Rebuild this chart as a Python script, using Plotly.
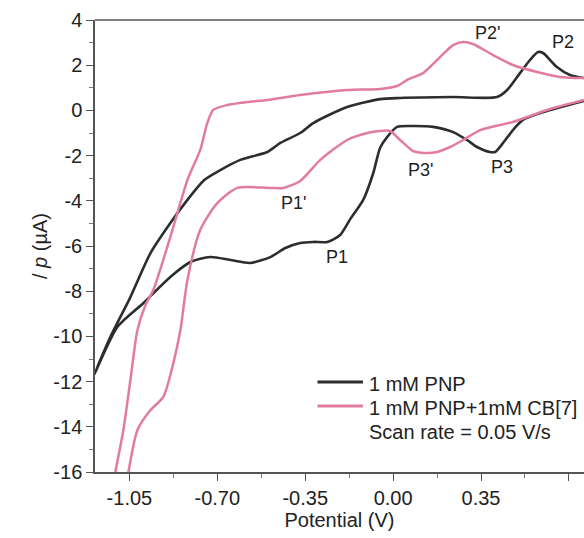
import plotly.graph_objects as go
import numpy as np

# ---- data ----
# 1 mM PNP : cathodic branch (right -> left) then anodic branch (left -> right)
pnp_v = [0.76, 0.613, 0.517, 0.477, 0.438, 0.406, 0.386, 0.334, 0.294, 0.239, 0.159, 0.080, 0.016,
         -0.024, -0.052, -0.079, -0.119, -0.171, -0.211, -0.262, -0.318, -0.370, -0.429, -0.489,
         -0.569, -0.648, -0.728, -0.807, -0.887, -0.994, -1.098, -1.189,
         -1.126, -1.046, -0.966, -0.887, -0.819, -0.752, -0.688, -0.608, -0.501, -0.449, -0.370,
         -0.318, -0.183, -0.052, 0.028, 0.239, 0.414, 0.454, 0.505, 0.545, 0.577, 0.597, 0.652,
         0.704, 0.76]
pnp_i = [0.42, -0.03, -0.42, -0.87, -1.44, -1.84, -1.84, -1.62, -1.31, -0.96, -0.73, -0.69, -0.73,
         -1.18, -1.66, -2.77, -3.96, -4.81, -5.51, -5.82, -5.82, -5.87, -6.09, -6.49,
         -6.75, -6.62, -6.49, -6.71, -7.37, -8.52, -9.58, -11.66,
         -10.03, -8.26, -6.31, -4.98, -3.96, -3.08, -2.64, -2.19, -1.84, -1.44, -1.00,
         -0.56, 0.15, 0.50, 0.55, 0.59, 0.59, 0.90, 1.65, 2.23, 2.58, 2.54, 1.92,
         1.57, 1.43]

# 1 mM PNP + 1 mM CB[7]
cb_v = [0.76, 0.613, 0.477, 0.346, 0.279, 0.227, 0.175, 0.127, 0.080, 0.028, -0.012, -0.052,
        -0.103, -0.183, -0.290, -0.370, -0.437, -0.489, -0.620, -0.700, -0.768, -0.819, -0.847,
        -0.875, -0.915, -0.966, -1.018, -1.054, -1.066,
        -1.118, -1.106, -1.074, -1.046, -1.018, -0.986, -0.955, -0.887, -0.819, -0.768, -0.740,
        -0.716, -0.660, -0.581, -0.501, -0.370, -0.183, -0.052, 0.016, 0.056, 0.119, 0.187,
        0.239, 0.279, 0.318, 0.398, 0.477, 0.573, 0.664, 0.76]
cb_i = [0.46, 0.02, -0.51, -0.87, -1.31, -1.62, -1.84, -1.88, -1.80, -1.31, -0.91, -0.91,
        -1.00, -1.31, -2.19, -3.12, -3.43, -3.43, -3.43, -4.10, -5.29, -7.50, -9.72,
        -11.18, -12.68, -13.26, -14.14, -16.0, -16.8,
        -16.8, -16.0, -14.14, -11.93, -9.72, -8.61, -7.95, -5.60, -3.08, -1.75, -0.56,
        0.02, 0.24, 0.37, 0.46, 0.68, 0.90, 0.95, 1.08, 1.35, 1.65, 2.36,
        2.89, 3.03, 2.94, 2.45, 2.01, 1.70, 1.48, 1.43]

x_ticks = [-1.05, -0.70, -0.35, 0.00, 0.35, 0.70]
x_labels = ["-1.05", "-0.70", "-0.35", "0.00", "0.35", "0.70"]
y_ticks = [4, 2, 0, -2, -4, -6, -8, -10, -12, -14, -16]
y_labels = ["4", "2", "0", "-2", "-4", "-6", "-8", "-10", "-12", "-14", "-16"]

peak_labels = ["P1", "P1'", "P2", "P2'", "P3", "P3'"]
peak_v = [-0.223, -0.398, 0.676, 0.374, 0.434, 0.108]
peak_i = [-6.49, -4.10, 3.03, 3.42, -2.50, -2.64]

series_names = ["1 mM PNP", "1 mM PNP+1mM CB[7]"]
note_text = "Scan rate = 0.05 V/s"

FONT = "Liberation Sans, Arial, sans-serif"
BLACK = "#2a2f2e"
PINK = "#e27c9f"
colors = [BLACK, PINK]
FS = 20

fig = go.Figure()
fig.add_trace(go.Scatter(x=pnp_v, y=pnp_i, mode="lines", name=series_names[0],
                         line=dict(color=BLACK, width=2.6, shape="spline", smoothing=0.7)))
fig.add_trace(go.Scatter(x=cb_v, y=cb_i, mode="lines", name=series_names[1],
                         line=dict(color=PINK, width=2.5, shape="spline", smoothing=0.7)))

for t, xv, yv in zip(peak_labels, peak_v, peak_i):
    fig.add_annotation(x=xv, y=yv, text=t, showarrow=False,
                       font=dict(family=FONT, size=18, color="#222"))

# legend drawn in the plot (line samples + labels), paper coordinates of the plot area
leg_rows = [0.199, 0.146]
for name, col, yp in zip(series_names, colors, leg_rows):
    fig.add_shape(type="line", xref="paper", yref="paper", x0=0.455, x1=0.548, y0=yp, y1=yp,
                  line=dict(color=col, width=3))
    fig.add_annotation(xref="paper", yref="paper", x=0.556, y=yp - 0.004, xanchor="left",
                       yanchor="middle", text=name, showarrow=False,
                       font=dict(family=FONT, size=FS, color="#222"))
fig.add_annotation(xref="paper", yref="paper", x=0.556, y=0.089, xanchor="left", yanchor="middle",
                   text=note_text, showarrow=False, font=dict(family=FONT, size=FS, color="#222"))

# top frame line
fig.add_shape(type="line", xref="paper", yref="paper", x0=0, x1=1, y0=1, y1=1,
              line=dict(color="#555", width=1.5))

minor_x = list(np.array(x_ticks[:-1]) + 0.175)
minor_y = list(np.array(y_ticks[:-1]) - 1)

fig.update_layout(
    width=584, height=538,
    margin=dict(l=95, r=0, t=20, b=66),
    paper_bgcolor="white", plot_bgcolor="white",
    font=dict(family=FONT, size=FS, color="#222"),
    showlegend=False,
    xaxis=dict(range=[-1.187, 0.760], tickmode="array", tickvals=x_ticks, ticktext=x_labels,
               ticks="outside", ticklen=7, tickwidth=1.3, tickcolor="#555",
               showline=True, linecolor="#555", linewidth=1.5, showgrid=False, zeroline=False,
               minor=dict(tickmode="array", tickvals=minor_x, ticks="outside", ticklen=4,
                          tickcolor="#777", showgrid=False),
               title=dict(text="Potential (V)", standoff=4, font=dict(family=FONT, size=FS)),
               tickfont=dict(family=FONT, size=FS, color="#222")),
    yaxis=dict(range=[-16, 4], tickmode="array", tickvals=y_ticks, ticktext=y_labels,
               ticks="outside", ticklen=7, tickwidth=1.3, tickcolor="#555",
               showline=True, linecolor="#555", linewidth=1.5, showgrid=False, zeroline=False,
               minor=dict(tickmode="array", tickvals=minor_y, ticks="outside", ticklen=4,
                          tickcolor="#777", showgrid=False),
               title=dict(text="/ <i>p</i> (µA)", standoff=0, font=dict(family=FONT, size=FS)),
               tickfont=dict(family=FONT, size=FS, color="#222")),
)

fig.write_html("out.html", config={"displayModeBar": False},
               post_script="document.body.style.margin='0';document.body.style.overflow='hidden';")
